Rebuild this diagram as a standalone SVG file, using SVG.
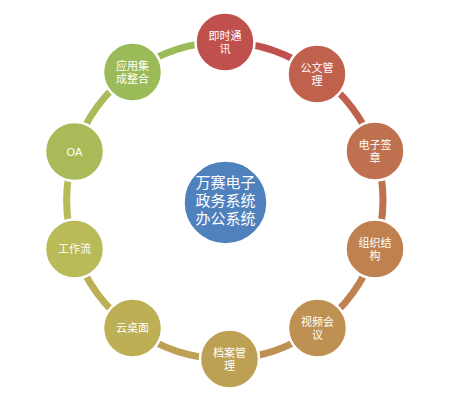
<svg xmlns="http://www.w3.org/2000/svg" width="456" height="403" viewBox="0 0 456 403" lang="zh-CN">
<style>
.arc{fill:none;stroke-width:7}
.node circle{stroke:#fff;stroke-width:2.5}
text{font-family:"Liberation Sans","Noto Sans CJK SC",sans-serif;fill:#fff;text-anchor:middle}
.s{font-size:11px}
.c{font-size:15px}
</style>
<rect width="456" height="403" fill="#fff"/>
<g id="connectors">
<path class="arc" stroke="#C0504D" d="M225 42 A158 158 0 0 1 317 74"/>
<path class="arc" stroke="#C0614D" d="M317 74 A158 158 0 0 1 375 151"/>
<path class="arc" stroke="#BF714F" d="M375 151 A158 158 0 0 1 375 249"/>
<path class="arc" stroke="#BF8150" d="M375 249 A158 158 0 0 1 317.5 328"/>
<path class="arc" stroke="#BE9052" d="M317.5 328 A158 158 0 0 1 229.5 359"/>
<path class="arc" stroke="#BDA053" d="M229.5 359 A158 158 0 0 1 132.5 328"/>
<path class="arc" stroke="#BCAF55" d="M132.5 328 A158 158 0 0 1 74.5 249"/>
<path class="arc" stroke="#B8BB57" d="M74.5 249 A158 158 0 0 1 74.5 151.5"/>
<path class="arc" stroke="#A9BB58" d="M74.5 151.5 A158 158 0 0 1 132.5 72"/>
<path class="arc" stroke="#9BBB59" d="M132.5 72 A158 158 0 0 1 225 42"/>
</g>
<g id="center" class="node"><circle cx="225.5" cy="202.5" r="42" fill="#4F81BD" stroke-width="1.5"/>
<text class="c" x="225.5" y="187.5"><tspan x="225.5">万赛电子</tspan><tspan x="225.5" dy="18">政务系统</tspan><tspan x="225.5" dy="18">办公系统</tspan></text></g>
<g id="n0" class="node"><circle cx="225" cy="42" r="29.5" fill="#C0504D"/><text class="s" x="225" y="39.5"><tspan x="225">即时通</tspan><tspan x="225" dy="13">讯</tspan></text></g>
<g id="n1" class="node"><circle cx="317" cy="74" r="29.5" fill="#C0614D"/><text class="s" x="317" y="71.5"><tspan x="317">公文管</tspan><tspan x="317" dy="13">理</tspan></text></g>
<g id="n2" class="node"><circle cx="375" cy="151" r="29.5" fill="#BF714F"/><text class="s" x="375" y="148.5"><tspan x="375">电子签</tspan><tspan x="375" dy="13">章</tspan></text></g>
<g id="n3" class="node"><circle cx="375" cy="249" r="29.5" fill="#BF8150"/><text class="s" x="375" y="246.5"><tspan x="375">组织结</tspan><tspan x="375" dy="13">构</tspan></text></g>
<g id="n4" class="node"><circle cx="317.5" cy="328" r="29.5" fill="#BE9052"/><text class="s" x="317.5" y="325.5"><tspan x="317.5">视频会</tspan><tspan x="317.5" dy="13">议</tspan></text></g>
<g id="n5" class="node"><circle cx="229.5" cy="359" r="29.5" fill="#BDA053"/><text class="s" x="229.5" y="356.5"><tspan x="229.5">档案管</tspan><tspan x="229.5" dy="13">理</tspan></text></g>
<g id="n6" class="node"><circle cx="132.5" cy="328" r="29.5" fill="#BCAF55"/><text class="s" x="132.5" y="332">云桌面</text></g>
<g id="n7" class="node"><circle cx="74.5" cy="249" r="29.5" fill="#B8BB57"/><text class="s" x="74.5" y="253">工作流</text></g>
<g id="n8" class="node"><circle cx="74.5" cy="151.5" r="29.5" fill="#A9BB58"/><text class="s" x="74.5" y="155.5">OA</text></g>
<g id="n9" class="node"><circle cx="132.5" cy="72" r="29.5" fill="#9BBB59"/><text class="s" x="132.5" y="69.5"><tspan x="132.5">应用集</tspan><tspan x="132.5" dy="13">成整合</tspan></text></g>
</svg>
